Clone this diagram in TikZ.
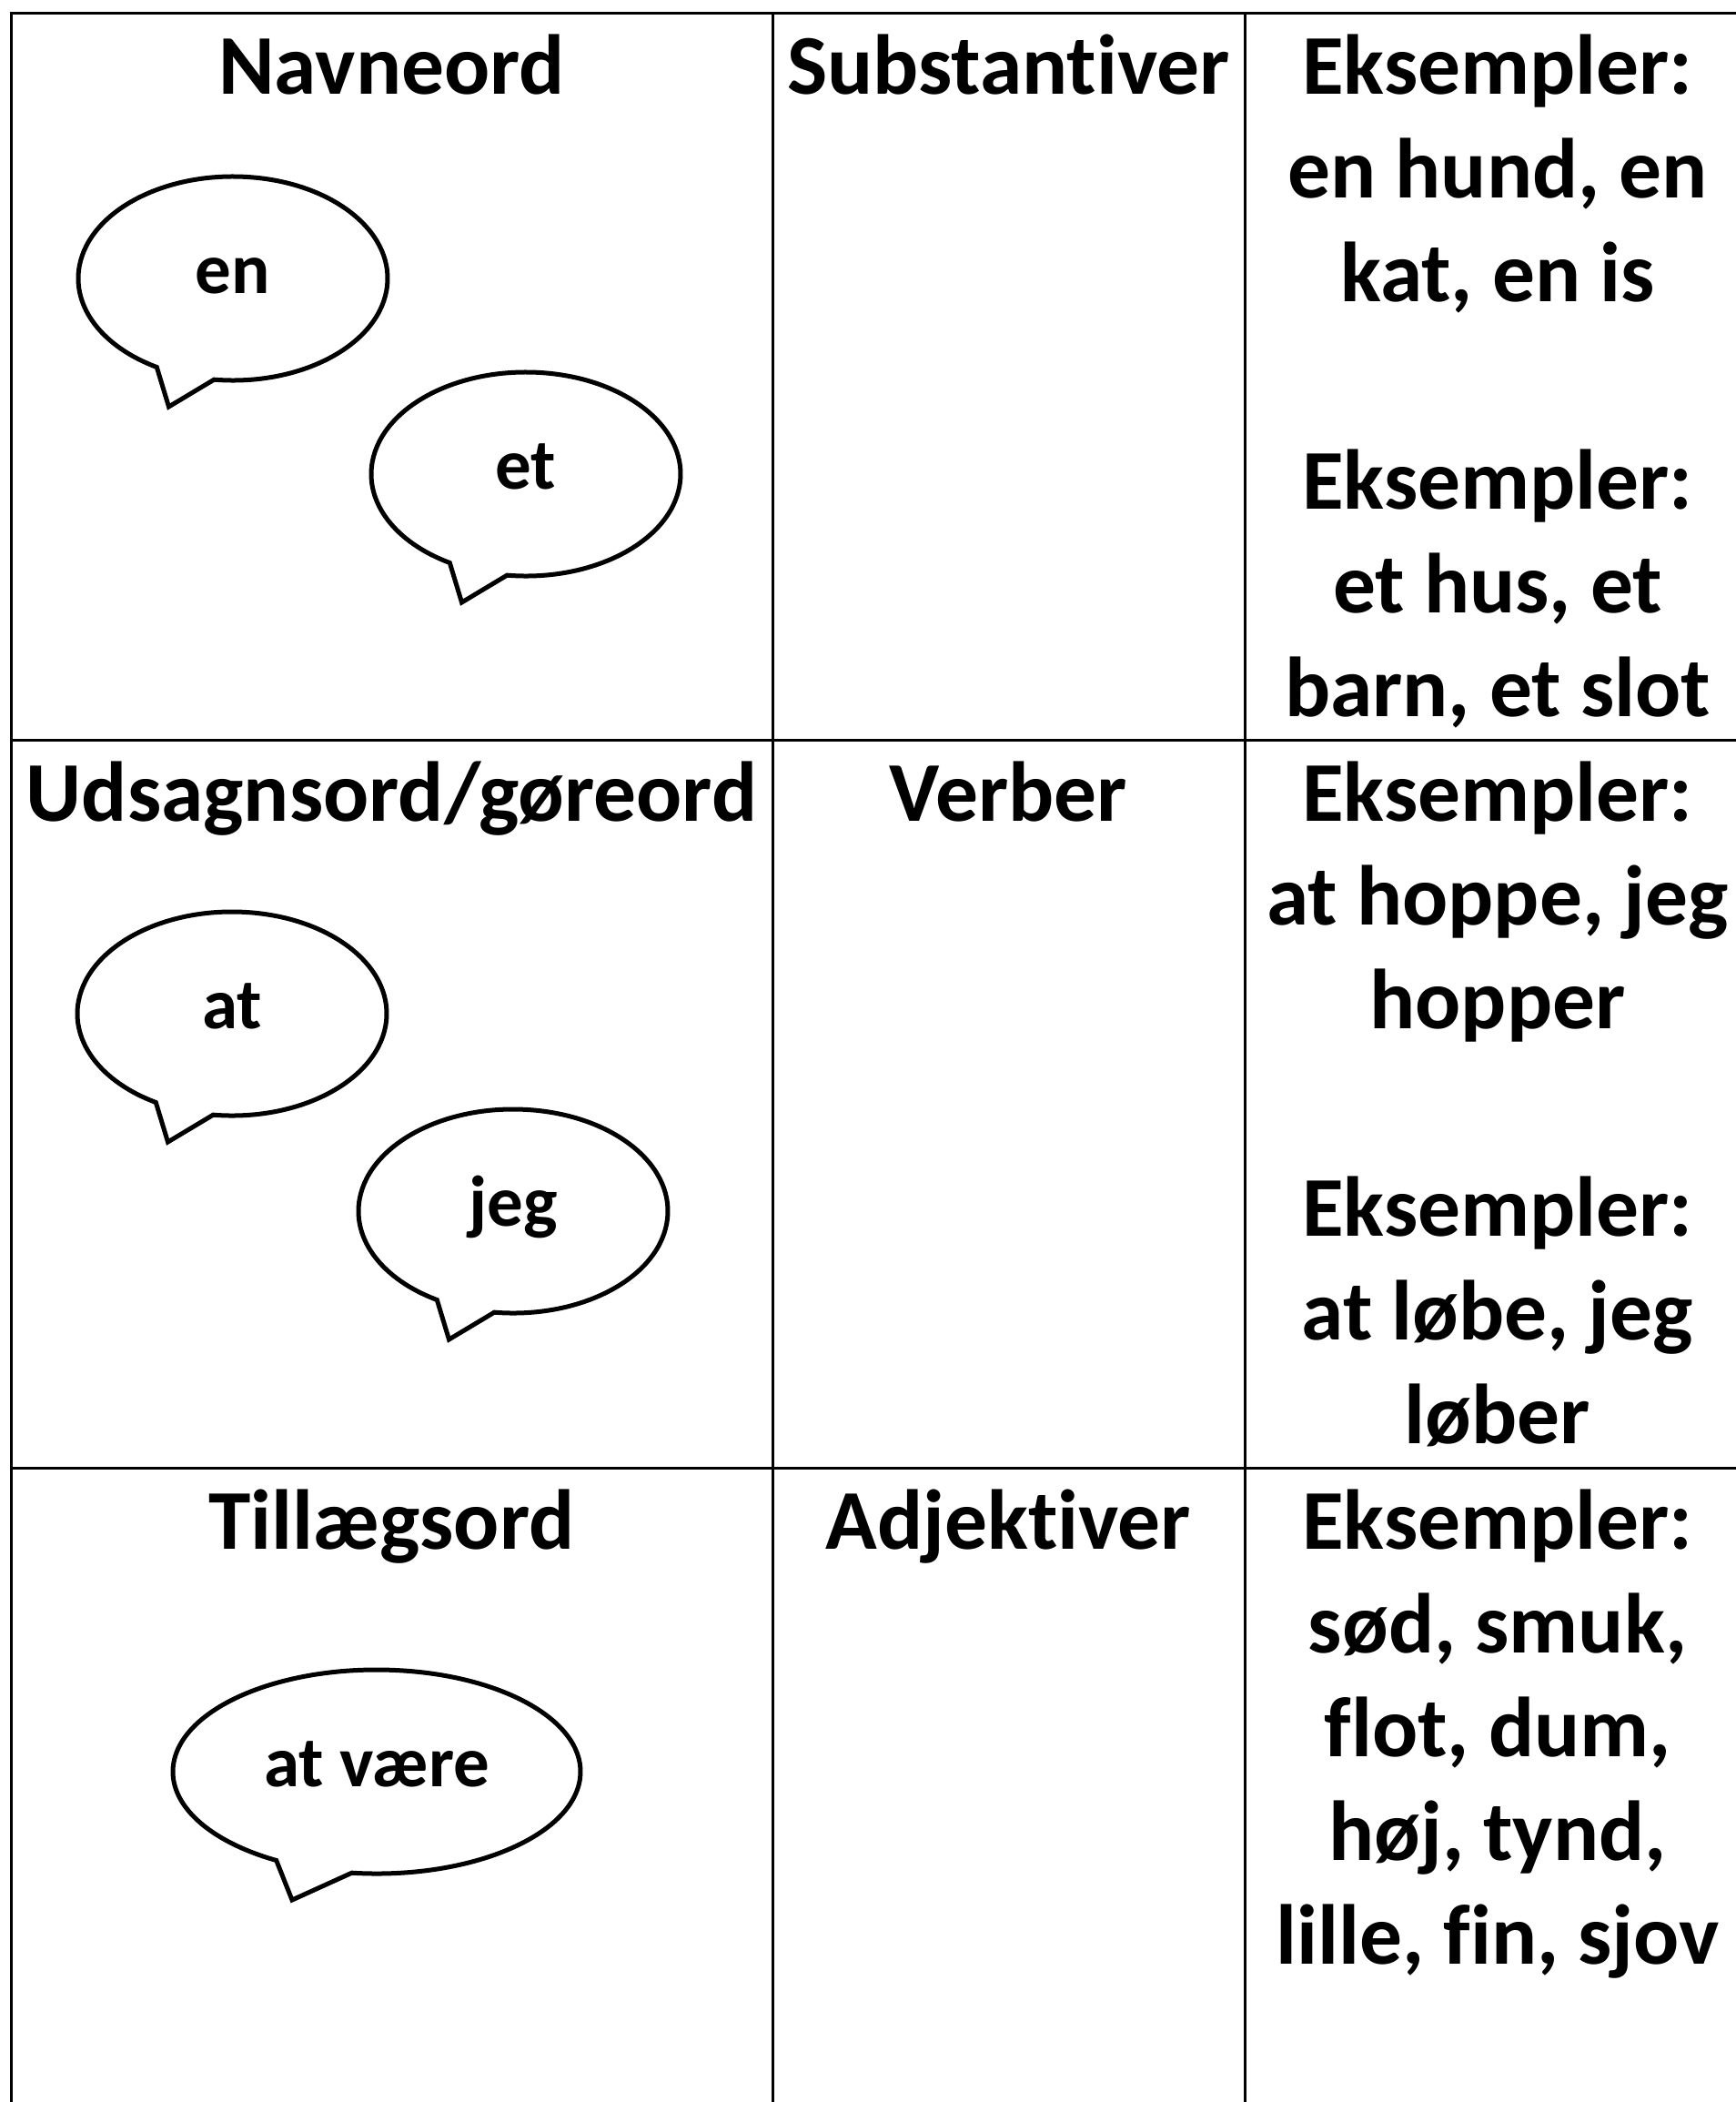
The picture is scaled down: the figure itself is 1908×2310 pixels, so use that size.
\documentclass[tikz,border=0pt]{standalone}
\usepackage{fontspec}
\setmainfont{Carlito}[Ligatures=NoCommon]
\tikzset{
  gridline/.style={line width=3pt},
  bubbleline/.style={line width=5pt, line join=miter},
  bigtext/.style={font=\fontsize{93.5}{114}\selectfont\bfseries, inner sep=0pt, text width=900pt, align=flush center, anchor=base},
  bubbletext/.style={font=\fontsize{79}{94}\selectfont\bfseries, inner sep=0pt, anchor=base}
}
% #1 centre x, #2 centre y (down), #3 x radius, #4 tip x offset, #5 name, #6 text
\newcommand\speechbubble[6]{%
  \begin{scope}[shift={(#1,-#2)}]
    \draw[bubbleline] (263:#3pt and 112pt)
      arc[start angle=263, end angle=600.5, x radius=#3pt, y radius=112pt]
      -- (#4,-141) -- cycle;
    \node[bubbletext] (#5) at (0,-16) {#6};
  \end{scope}}
\begin{document}
\begin{tikzpicture}[x=1pt,y=1pt]
  \useasboundingbox (0,0) rectangle (1908,-2310);
  \clip (0,0) rectangle (1908,-2310);
  % table grid
  \draw[gridline] (12,-2320) -- (12,-14) -- (1920,-14);
  \draw[gridline] (12,-813) -- (1920,-813);
  \draw[gridline] (12,-1613) -- (1920,-1613);
  \draw[gridline] (849,-14) -- (849,-2320);
  \draw[gridline] (1368,-14) -- (1368,-2320);
  % column 1 headings
  \node[bigtext] (navneord) at (430.5,-103) {Navneord};
  \node[bigtext] (udsagnsord) at (430.5,-902) {Udsagnsord/gøreord};
  \node[bigtext] (tillaegsord) at (430.5,-1702) {Tillægsord};
  % column 2
  \node[bigtext] (substantiver) at (1108.5,-103) {Substantiver};
  \node[bigtext] (verber) at (1108.5,-902) {Verber};
  \node[bigtext] (adjektiver) at (1108.5,-1702) {Adjektiver};
  % column 3
  \node[bigtext] (eks1) at (1646,-103) {Eksempler:\\en hund, en\\kat, en is\\[114pt]Eksempler:\\et hus, et\\barn, et slot};
  \node[bigtext] (eks2) at (1646,-902) {Eksempler:\\at hoppe, jeg\\hopper\\[114pt]Eksempler:\\at løbe, jeg\\løber};
  \node[bigtext] (eks3) at (1646,-1702) {Eksempler:\\sød, smuk,\\flot, dum,\\høj, tynd,\\lille, fin, sjov};
  % speech bubbles
  \speechbubble{256}{306}{170}{-70.5}{en}{en}
  \speechbubble{578}{521}{170}{-70.5}{et}{et}
  \speechbubble{255}{1114}{170}{-70.5}{at}{at}
  \speechbubble{564}{1331}{170}{-70.5}{jeg}{jeg}
  \speechbubble{414}{1947}{224}{-93}{atvaere}{at være}
\end{tikzpicture}
\end{document}
